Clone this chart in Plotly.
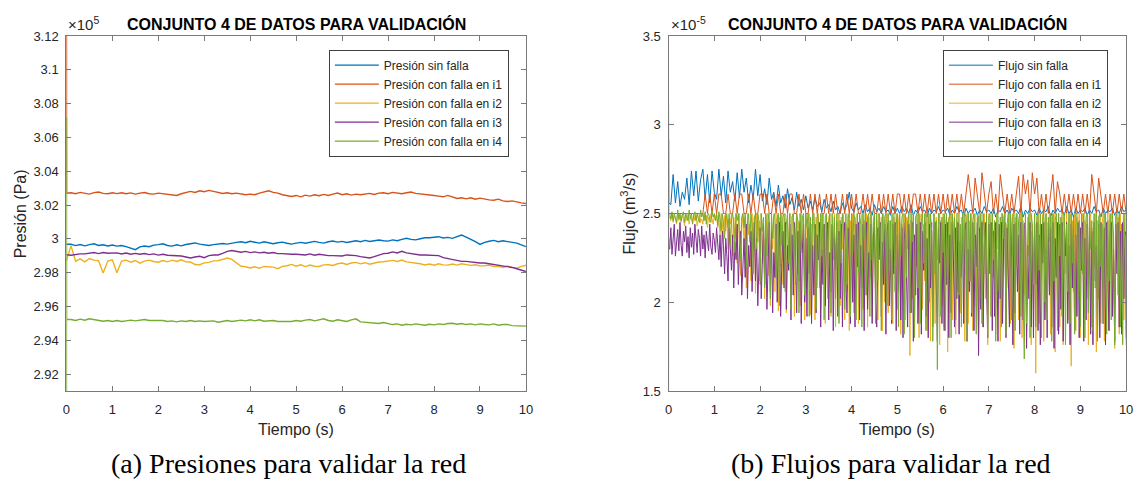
import numpy as np
import plotly.graph_objects as go

# ---------------- DATA ----------------
# Pressure (values in units of 1e5 Pa), sampled at T_PRES
T_PRES_START = [0.0, 0.002, 0.004]
T_PRES = T_PRES_START + [round(0.1 * k, 1) for k in range(1, 101)]

P_SIN_FALLA = [2.9970, 2.9966, 2.9968,
    2.9968, 2.9960, 2.9967, 2.9959, 2.9966, 2.9971, 2.9961, 2.9965, 2.9958, 2.9964,
    2.9957, 2.9961, 2.9954, 2.9947, 2.9936, 2.9953, 2.9958, 2.9954, 2.9963, 2.9966,
    2.9971, 2.9961, 2.9957, 2.9965, 2.9959, 2.9967, 2.9973, 2.9976, 2.9969, 2.9965,
    2.9961, 2.9966, 2.9969, 2.9973, 2.9969, 2.9976, 2.9979, 2.9983, 2.9977, 2.9986,
    2.9981, 2.9975, 2.9983, 2.9977, 2.9971, 2.9977, 2.9981, 2.9974, 2.9969, 2.9975,
    2.9979, 2.9974, 2.9981, 2.9985, 2.9979, 2.9975, 2.9983, 2.9987, 2.9981, 2.9985,
    2.9979, 2.9986, 2.9989, 2.9983, 2.9991, 2.9985, 2.9989, 2.9993, 2.9989, 2.9987,
    2.9994, 2.9989, 2.9997, 3.0004, 2.9997, 2.9994, 3.0001, 3.0007, 3.0007, 3.0011,
    3.0013, 3.0005, 3.0009, 3.0003, 3.0011, 3.0023, 3.0011, 2.9999, 2.9984, 2.9967,
    2.9979, 2.9986, 2.9991, 2.9983, 2.9989, 2.9984, 2.9981, 2.9975, 2.9965, 2.9954]

P_FALLA_I1 = [3.2000, 3.0500, 3.0270,
    3.0273, 3.0267, 3.0275, 3.0269, 3.0265, 3.0274, 3.0277, 3.0269, 3.0267, 3.0273,
    3.0268, 3.0273, 3.0267, 3.0272, 3.0265, 3.0271, 3.0274, 3.0267, 3.0265, 3.0271,
    3.0267, 3.0264, 3.0261, 3.0257, 3.0267, 3.0273, 3.0281, 3.0275, 3.0285, 3.0279,
    3.0287, 3.0281, 3.0276, 3.0269, 3.0273, 3.0267, 3.0271, 3.0265, 3.0261, 3.0265,
    3.0261, 3.0271, 3.0279, 3.0285, 3.0275, 3.0271, 3.0261, 3.0255, 3.0251, 3.0257,
    3.0249, 3.0259, 3.0253, 3.0261, 3.0255, 3.0263, 3.0257, 3.0265, 3.0271, 3.0261,
    3.0267, 3.0259, 3.0265, 3.0261, 3.0267, 3.0269, 3.0263, 3.0271, 3.0273, 3.0267,
    3.0275, 3.0269, 3.0267, 3.0273, 3.0277, 3.0269, 3.0267, 3.0263, 3.0261, 3.0257,
    3.0253, 3.0249, 3.0257, 3.0247, 3.0239, 3.0243, 3.0237, 3.0243, 3.0235, 3.0241,
    3.0235, 3.0231, 3.0229, 3.0235, 3.0225, 3.0221, 3.0225, 3.0217, 3.0213, 3.0209]

P_FALLA_I2 = [2.9880, 2.9870, 2.9875,
    2.9960, 2.9868, 2.9882, 2.9864, 2.9884, 2.9874, 2.9871, 2.9798, 2.9869, 2.9876,
    2.9800, 2.9869, 2.9874, 2.9862, 2.9872, 2.9856, 2.9868, 2.9874, 2.9866, 2.9862,
    2.9872, 2.9864, 2.9874, 2.9866, 2.9876, 2.9864, 2.9863, 2.9848, 2.9847, 2.9858,
    2.9861, 2.9870, 2.9871, 2.9880, 2.9887, 2.9879, 2.9861, 2.9838, 2.9835, 2.9828,
    2.9835, 2.9826, 2.9837, 2.9836, 2.9833, 2.9824, 2.9837, 2.9841, 2.9849, 2.9838,
    2.9847, 2.9836, 2.9845, 2.9838, 2.9837, 2.9846, 2.9847, 2.9843, 2.9853, 2.9857,
    2.9849, 2.9857, 2.9861, 2.9852, 2.9859, 2.9850, 2.9857, 2.9863, 2.9865, 2.9869,
    2.9873, 2.9866, 2.9875, 2.9864, 2.9861, 2.9854, 2.9853, 2.9846, 2.9851, 2.9844,
    2.9853, 2.9846, 2.9845, 2.9851, 2.9845, 2.9853, 2.9847, 2.9843, 2.9847, 2.9840,
    2.9841, 2.9845, 2.9837, 2.9837, 2.9831, 2.9839, 2.9831, 2.9827, 2.9837, 2.9844]

P_FALLA_I3 = [2.9906, 2.9904, 2.9906,
    2.9903, 2.9909, 2.9911, 2.9911, 2.9915, 2.9919, 2.9913, 2.9919, 2.9915, 2.9914,
    2.9917, 2.9911, 2.9916, 2.9909, 2.9914, 2.9909, 2.9913, 2.9907, 2.9911, 2.9904,
    2.9909, 2.9903, 2.9903, 2.9899, 2.9899, 2.9893, 2.9887, 2.9893, 2.9897, 2.9889,
    2.9901, 2.9905, 2.9905, 2.9914, 2.9926, 2.9931, 2.9927, 2.9921, 2.9926, 2.9919,
    2.9923, 2.9917, 2.9921, 2.9915, 2.9919, 2.9913, 2.9913, 2.9909, 2.9909, 2.9909,
    2.9909, 2.9905, 2.9911, 2.9903, 2.9909, 2.9904, 2.9901, 2.9901, 2.9899, 2.9899,
    2.9905, 2.9905, 2.9901, 2.9895, 2.9893, 2.9887, 2.9895, 2.9903, 2.9913, 2.9915,
    2.9923, 2.9917, 2.9927, 2.9917, 2.9913, 2.9907, 2.9905, 2.9905, 2.9903, 2.9903,
    2.9901, 2.9889, 2.9883, 2.9877, 2.9873, 2.9867, 2.9867, 2.9863, 2.9863, 2.9857,
    2.9857, 2.9853, 2.9851, 2.9843, 2.9841, 2.9835, 2.9831, 2.9823, 2.9817, 2.9807]

P_FALLA_I4 = [2.8000, 3.0720, 2.9524,
    2.9523, 2.9517, 2.9525, 2.9519, 2.9527, 2.9521, 2.9519, 2.9513, 2.9517, 2.9511,
    2.9517, 2.9511, 2.9515, 2.9519, 2.9515, 2.9521, 2.9523, 2.9517, 2.9517, 2.9513,
    2.9517, 2.9511, 2.9515, 2.9509, 2.9515, 2.9511, 2.9517, 2.9511, 2.9515, 2.9511,
    2.9511, 2.9515, 2.9507, 2.9513, 2.9517, 2.9511, 2.9515, 2.9519, 2.9515, 2.9521,
    2.9515, 2.9521, 2.9513, 2.9513, 2.9517, 2.9511, 2.9511, 2.9515, 2.9511, 2.9517,
    2.9513, 2.9519, 2.9523, 2.9515, 2.9521, 2.9527, 2.9517, 2.9513, 2.9521, 2.9515,
    2.9511, 2.9521, 2.9527, 2.9509, 2.9507, 2.9507, 2.9503, 2.9499, 2.9505, 2.9497,
    2.9493, 2.9497, 2.9489, 2.9495, 2.9491, 2.9497, 2.9493, 2.9489, 2.9495, 2.9491,
    2.9497, 2.9493, 2.9499, 2.9501, 2.9495, 2.9499, 2.9493, 2.9497, 2.9491, 2.9497,
    2.9493, 2.9491, 2.9497, 2.9489, 2.9493, 2.9493, 2.9487, 2.9487, 2.9487, 2.9484]

# Flow (values in units of 1e-5 m^3/s)
# blue / orange sampled at T_FLOW, the other three at T_FLOW_FINE
T_FLOW_START = [0.0, 0.002, 0.004]
T_FLOW = T_FLOW_START + [round(0.05 * k, 3) for k in range(1, 201)]
T_FLOW_FINE = T_FLOW_START + [round(0.025 * k, 3) for k in range(1, 401)]

F_SIN_FALLA = [3.13, 2.60, 2.56,
    2.55, 2.72, 2.56, 2.68, 2.54, 2.62, 2.58, 2.70, 2.55, 2.74, 2.60, 2.74, 2.57, 2.69, 2.75, 2.58, 2.72, 2.56, 2.74, 2.62,
    2.58, 2.75, 2.60, 2.71, 2.56, 2.74, 2.62, 2.68, 2.57, 2.73, 2.59, 2.75, 2.62, 2.70, 2.56, 2.66, 2.58, 2.75, 2.60, 2.72,
    2.57, 2.64, 2.55, 2.70, 2.58, 2.62, 2.54, 2.66, 2.56, 2.60, 2.53, 2.64, 2.55, 2.59, 2.52, 2.62, 2.54, 2.58, 2.52, 2.60,
    2.53, 2.57, 2.52, 2.59, 2.54, 2.56, 2.51, 2.58, 2.53, 2.55, 2.51, 2.57, 2.52, 2.54, 2.50, 2.56, 2.52, 2.55, 2.62, 2.53,
    2.51, 2.56, 2.52, 2.54, 2.50, 2.55, 2.51, 2.53, 2.49, 2.55, 2.51, 2.53, 2.50, 2.54, 2.51, 2.52, 2.49, 2.54, 2.50, 2.53,
    2.50, 2.54, 2.51, 2.53, 2.50, 2.55, 2.49, 2.52, 2.50, 2.54, 2.51, 2.52, 2.48, 2.53, 2.50, 2.52, 2.51, 2.54, 2.50, 2.52,
    2.51, 2.53, 2.49, 2.52, 2.50, 2.54, 2.51, 2.52, 2.48, 2.53, 2.50, 2.52, 2.51, 2.53, 2.49, 2.52, 2.50, 2.54, 2.51, 2.52,
    2.50, 2.53, 2.48, 2.52, 2.51, 2.54, 2.50, 2.52, 2.49, 2.53, 2.51, 2.52, 2.50, 2.54, 2.48, 2.52, 2.50, 2.53, 2.51, 2.52,
    2.49, 2.53, 2.50, 2.52, 2.51, 2.54, 2.48, 2.52, 2.50, 2.53, 2.51, 2.52, 2.49, 2.54, 2.50, 2.52, 2.48, 2.53, 2.50, 2.52,
    2.51, 2.53, 2.49, 2.52, 2.50, 2.54, 2.51, 2.52, 2.48, 2.53, 2.50, 2.52, 2.51, 2.53, 2.49, 2.52, 2.50, 2.54, 2.51, 2.52]

F_FALLA_I1 = [2.50, 2.50, 2.50,
    2.50, 2.50, 2.50, 2.50, 2.50, 2.50, 2.50, 2.50, 2.50, 2.50, 2.50, 2.50, 2.50, 2.50, 2.50, 2.61, 2.50, 2.61, 2.50, 2.61,
    2.50, 2.61, 2.61, 2.50, 2.50, 2.61, 2.50, 2.50, 2.61, 2.50, 2.61, 2.61, 2.50, 2.50, 2.61, 2.50, 2.61, 2.50, 2.50, 2.61,
    2.61, 2.50, 2.61, 2.50, 2.50, 2.61, 2.50, 2.61, 2.50, 2.50, 2.61, 2.50, 2.61, 2.61, 2.50, 2.50, 2.61, 2.50, 2.61, 2.50,
    2.50, 2.61, 2.50, 2.61, 2.50, 2.61, 2.50, 2.50, 2.61, 2.50, 2.61, 2.50, 2.61, 2.50, 2.50, 2.61, 2.50, 2.61, 2.50, 2.61,
    2.50, 2.61, 2.50, 2.50, 2.61, 2.50, 2.61, 2.50, 2.61, 2.50, 2.50, 2.61, 2.50, 2.61, 2.50, 2.61, 2.50, 2.61, 2.50, 2.61,
    2.61, 2.50, 2.61, 2.50, 2.61, 2.50, 2.61, 2.61, 2.50, 2.61, 2.50, 2.61, 2.50, 2.61, 2.50, 2.61, 2.50, 2.61, 2.50, 2.61,
    2.50, 2.61, 2.50, 2.61, 2.50, 2.61, 2.50, 2.61, 2.50, 2.61, 2.72, 2.61, 2.50, 2.70, 2.61, 2.50, 2.73, 2.61, 2.50, 2.61,
    2.68, 2.50, 2.61, 2.50, 2.72, 2.61, 2.50, 2.61, 2.50, 2.61, 2.50, 2.61, 2.71, 2.50, 2.72, 2.61, 2.69, 2.50, 2.73, 2.61,
    2.70, 2.50, 2.61, 2.50, 2.61, 2.50, 2.61, 2.72, 2.50, 2.68, 2.61, 2.50, 2.61, 2.50, 2.61, 2.50, 2.61, 2.50, 2.61, 2.50,
    2.61, 2.50, 2.61, 2.50, 2.72, 2.61, 2.50, 2.70, 2.61, 2.50, 2.61, 2.50, 2.61, 2.50, 2.61, 2.50, 2.61, 2.50, 2.61, 2.50]

F_FALLA_I2 = [2.48, 2.48, 2.48,
    2.48, 2.46, 2.50, 2.45, 2.49, 2.47, 2.44, 2.50, 2.46, 2.48, 2.45, 2.50, 2.47, 2.43, 2.49, 2.46, 2.50, 2.44, 2.48, 2.47,
    2.45, 2.50, 2.46, 2.49, 2.43, 2.48, 2.50, 2.45, 2.47, 2.44, 2.50, 2.46, 2.49, 2.42, 2.48, 2.45, 2.50, 2.47, 2.44, 2.49,
    2.46, 2.50, 2.42, 2.48, 2.38, 2.50, 2.45, 2.34, 2.49, 2.40, 2.50, 2.30, 2.47, 2.44, 2.50, 2.26, 2.48, 2.36, 2.50, 2.22,
    2.46, 2.50, 2.15, 2.42, 2.50, 2.30, 2.48, 2.08, 2.50, 2.38, 2.44, 2.12, 2.50, 2.25, 2.48, 2.05, 2.50, 2.34, 2.46, 2.10,
    2.50, 2.22, 2.48, 2.02, 2.50, 2.40, 2.15, 2.50, 1.98, 2.46, 2.30, 2.50, 2.06, 2.44, 2.50, 1.95, 2.48, 2.20, 2.50, 2.10,
    2.42, 2.50, 1.94, 2.46, 2.28, 2.50, 2.04, 2.48, 2.50, 1.92, 2.40, 2.50, 2.16, 2.46, 1.98, 2.50, 2.32, 2.48, 1.90, 2.50,
    2.12, 2.46, 2.50, 1.93, 2.44, 2.26, 2.50, 1.90, 2.48, 2.08, 2.50, 2.36, 1.96, 2.50, 2.18, 2.44, 1.88, 2.50, 2.02, 2.48,
    2.50, 1.92, 2.40, 2.24, 2.50, 1.86, 2.46, 2.10, 2.50, 1.98, 2.48, 2.30, 2.50, 1.90, 2.44, 2.06, 2.50, 1.84, 2.46, 2.20,
    2.50, 1.94, 2.48, 2.12, 2.50, 1.88, 2.42, 2.28, 2.50, 1.96, 2.46, 2.04, 2.50, 1.86, 2.48, 2.18, 2.50, 1.92, 2.40, 2.50,
    2.08, 2.46, 1.90, 2.50, 2.26, 2.48, 1.84, 2.50, 2.00, 2.44, 2.50, 1.94, 2.46, 2.14, 2.50, 1.88, 2.48, 2.22, 2.50, 1.96,
    2.46, 2.50, 1.82, 2.44, 2.10, 2.50, 1.90, 2.48, 2.30, 2.50, 1.70, 2.46, 2.02, 2.50, 1.86, 2.42, 2.20, 2.50, 1.80, 2.48,
    2.50, 1.96, 2.44, 2.12, 2.50, 1.84, 2.46, 2.50, 1.78, 2.40, 2.04, 2.50, 1.88, 2.48, 2.24, 2.50, 1.76, 2.46, 1.98, 2.50,
    1.86, 2.44, 2.50, 1.72, 2.48, 2.16, 2.50, 1.90, 2.42, 2.50, 1.82, 2.46, 2.06, 2.50, 1.94, 2.48, 2.28, 2.50, 1.78, 2.44,
    2.50, 1.88, 2.46, 2.12, 2.50, 1.84, 2.40, 2.50, 1.98, 2.48, 1.80, 2.50, 2.22, 2.46, 1.86, 2.50, 2.02, 2.44, 1.76, 2.50,
    2.48, 1.92, 2.50, 2.14, 2.46, 1.82, 2.50, 2.30, 2.42, 1.78, 2.50, 1.96, 2.48, 2.50, 1.84, 2.44, 2.08, 2.50, 1.88, 2.46,
    2.50, 1.74, 2.48, 2.20, 2.50, 1.90, 2.42, 2.50, 1.80, 2.46, 2.04, 2.50, 1.86, 2.48, 2.26, 2.50, 1.76, 2.44, 1.96, 2.50,
    1.60, 2.48, 2.50, 1.88, 2.44, 2.12, 2.50, 1.78, 2.46, 2.50, 1.94, 2.40, 2.50, 1.82, 2.48, 2.22, 2.50, 1.72, 2.46, 2.02,
    2.50, 1.86, 2.44, 2.50, 1.76, 2.48, 2.16, 2.50, 1.90, 2.42, 2.50, 1.64, 2.46, 2.06, 2.50, 1.84, 2.48, 2.28, 2.50, 1.80,
    2.44, 2.50, 1.92, 2.46, 2.10, 2.50, 1.76, 2.48, 2.50, 1.86, 2.42, 2.20, 2.50, 1.72, 2.46, 2.02, 2.50, 1.88, 2.44, 2.50,
    1.78, 2.48, 2.14, 2.50, 1.84, 2.46, 2.50, 1.96, 2.40, 1.74, 2.50, 2.24, 2.48, 1.82, 2.50, 2.06, 2.44, 1.90, 2.50, 1.76]

F_FALLA_I3 = [2.30, 2.36, 2.30,
    2.30, 2.42, 2.27, 2.38, 2.44, 2.26, 2.35, 2.41, 2.29, 2.45, 2.32, 2.26, 2.40, 2.34, 2.43, 2.28, 2.37, 2.25, 2.42, 2.31,
    2.39, 2.27, 2.44, 2.33, 2.28, 2.41, 2.36, 2.26, 2.43, 2.30, 2.38, 2.25, 2.40, 2.34, 2.29, 2.44, 2.31, 2.27, 2.39, 2.35,
    2.28, 2.42, 2.30, 2.24, 2.38, 2.20, 2.40, 2.32, 2.16, 2.36, 2.26, 2.12, 2.42, 2.30, 2.18, 2.38, 2.08, 2.34, 2.24, 2.44,
    2.10, 2.30, 2.40, 2.04, 2.26, 2.36, 2.14, 2.44, 2.02, 2.32, 2.20, 2.40, 2.06, 2.28, 2.45, 2.12, 2.36, 1.98, 2.30, 2.42,
    2.02, 2.24, 2.44, 2.10, 2.36, 1.96, 2.30, 2.45, 2.06, 2.40, 1.94, 2.28, 2.14, 2.44, 2.00, 2.34, 2.45, 1.92, 2.22, 2.40,
    2.08, 2.45, 1.96, 2.32, 2.18, 2.44, 1.90, 2.38, 2.04, 2.45, 2.26, 1.94, 2.40, 2.12, 2.45, 1.88, 2.30, 2.44, 2.00, 2.36,
    1.92, 2.42, 2.16, 2.45, 1.88, 2.32, 2.04, 2.44, 1.94, 2.38, 2.24, 2.45, 1.86, 2.30, 2.10, 2.44, 1.98, 2.40, 2.45, 1.90,
    2.28, 2.06, 2.44, 1.84, 2.36, 2.18, 2.45, 1.92, 2.40, 2.02, 2.44, 1.86, 2.34, 2.45, 2.12, 1.94, 2.42, 2.26, 1.88, 2.45,
    2.00, 2.38, 1.86, 2.44, 2.20, 2.45, 1.90, 2.32, 2.08, 2.44, 1.84, 2.40, 2.45, 1.96, 2.28, 2.14, 2.44, 1.88, 2.36, 2.45,
    2.02, 1.86, 2.42, 2.24, 2.45, 1.92, 2.34, 2.10, 2.44, 1.82, 2.40, 2.45, 1.98, 2.30, 1.88, 2.44, 2.16, 2.45, 1.84, 2.38,
    2.06, 2.45, 1.90, 2.42, 1.80, 2.34, 2.45, 2.12, 1.86, 2.44, 2.26, 1.94, 2.45, 1.78, 2.38, 2.04, 2.44, 1.88, 2.30, 2.45,
    1.82, 2.40, 2.18, 2.45, 1.92, 2.36, 1.80, 2.44, 2.08, 2.45, 1.86, 2.32, 2.45, 1.96, 1.78, 2.42, 2.22, 2.45, 1.88, 2.36,
    1.84, 2.44, 2.10, 2.45, 1.80, 2.38, 1.94, 2.45, 2.26, 1.86, 2.42, 2.02, 2.45, 1.82, 2.34, 2.14, 2.44, 1.88, 2.40, 2.45,
    1.78, 2.30, 2.06, 2.44, 1.92, 2.45, 1.84, 2.38, 2.20, 2.45, 1.70, 2.42, 1.96, 2.45, 1.86, 2.32, 2.45, 2.08, 1.80, 2.44,
    2.16, 2.45, 1.84, 2.40, 1.92, 2.45, 2.28, 1.78, 2.44, 2.02, 2.45, 1.88, 2.36, 2.45, 1.80, 2.42, 2.12, 1.86, 2.45, 2.24,
    1.76, 2.44, 1.94, 2.45, 2.06, 2.38, 1.82, 2.45, 2.18, 1.90, 2.44, 2.45, 1.74, 2.32, 2.02, 2.45, 1.86, 2.40, 1.80, 2.44,
    2.10, 2.45, 1.84, 2.38, 1.76, 2.44, 2.22, 2.45, 1.90, 2.30, 1.80, 2.45, 2.04, 2.42, 1.86, 2.45, 1.74, 2.36, 2.14, 2.45,
    1.82, 2.44, 1.96, 2.45, 1.78, 2.40, 2.26, 2.45, 1.88, 2.32, 1.76, 2.44, 2.08, 2.45, 1.84, 2.38, 1.92, 2.45, 1.80, 2.42,
    2.18, 2.45, 1.78, 2.36, 1.90, 2.44, 2.02, 2.45, 1.82, 2.40, 1.76, 2.45, 2.12, 2.32, 1.86, 2.44, 1.80, 2.45, 2.24, 1.88,
    2.42, 1.76, 2.45, 2.06, 1.84, 2.38, 2.45, 1.92, 2.30, 1.78, 2.44, 2.16, 2.45, 1.86, 2.40, 1.82, 2.45, 2.02, 2.38, 2.40]

F_FALLA_I4 = [1.00, 2.915, 2.50,
    2.50, 2.47, 2.51, 2.46, 2.50, 2.48, 2.45, 2.52, 2.47, 2.50, 2.46, 2.49, 2.51, 2.45, 2.50, 2.48, 2.46, 2.52, 2.47, 2.50,
    2.44, 2.49, 2.51, 2.46, 2.50, 2.47, 2.45, 2.52, 2.48, 2.50, 2.46, 2.51, 2.44, 2.49, 2.50, 2.47, 2.45, 2.51, 2.48, 2.50,
    2.46, 2.50, 2.43, 2.51, 2.47, 2.40, 2.50, 2.45, 2.36, 2.50, 2.48, 2.42, 2.50, 2.32, 2.47, 2.50, 2.44, 2.28, 2.50, 2.46,
    2.50, 2.38, 2.24, 2.48, 2.50, 2.42, 2.50, 2.20, 2.46, 2.50, 2.34, 2.50, 2.44, 2.16, 2.48, 2.50, 2.30, 2.50, 2.46, 2.12,
    2.50, 2.40, 2.48, 2.08, 2.50, 2.26, 2.50, 2.44, 2.02, 2.50, 2.36, 2.48, 2.50, 2.14, 2.46, 2.50, 1.98, 2.50, 2.32, 2.48,
    2.50, 2.06, 2.44, 2.50, 2.22, 2.50, 1.96, 2.48, 2.50, 2.38, 2.10, 2.50, 2.46, 1.94, 2.50, 2.28, 2.48, 2.50, 2.04, 2.50,
    2.42, 2.50, 1.92, 2.48, 2.18, 2.50, 2.50, 2.34, 1.96, 2.50, 2.46, 2.08, 2.50, 2.26, 2.50, 1.90, 2.48, 2.50, 2.14, 2.44,
    2.50, 1.94, 2.50, 2.30, 2.48, 2.02, 2.50, 2.50, 1.88, 2.46, 2.22, 2.50, 2.40, 1.96, 2.50, 2.10, 2.48, 2.50, 1.92, 2.50,
    2.28, 2.50, 2.46, 1.90, 2.50, 2.16, 2.50, 2.44, 1.86, 2.50, 2.36, 2.50, 2.04, 2.48, 2.50, 1.92, 2.50, 2.24, 2.46, 2.50,
    1.88, 2.50, 2.12, 2.50, 2.42, 1.84, 2.50, 2.30, 2.48, 2.50, 1.98, 2.50, 2.18, 2.46, 1.90, 2.50, 2.50, 2.06, 2.44, 2.50,
    1.86, 2.50, 2.26, 2.48, 2.50, 1.82, 2.50, 2.14, 2.46, 2.50, 1.94, 2.50, 2.34, 2.50, 1.80, 2.48, 2.50, 2.08, 2.50, 1.88,
    2.44, 2.50, 2.22, 2.50, 1.84, 2.48, 2.50, 2.00, 2.50, 2.40, 1.78, 2.50, 2.16, 2.46, 1.62, 2.50, 2.50, 1.92, 2.48, 2.28,
    2.50, 1.84, 2.50, 2.10, 2.46, 2.50, 1.80, 2.50, 2.32, 2.48, 1.90, 2.50, 2.50, 2.04, 2.44, 1.86, 2.50, 2.20, 2.50, 2.48,
    1.78, 2.50, 2.12, 2.50, 1.94, 2.46, 2.50, 2.28, 1.82, 2.50, 2.48, 2.02, 2.50, 1.88, 2.50, 2.40, 2.16, 2.50, 1.80, 2.48,
    2.50, 1.92, 2.50, 2.24, 2.46, 1.78, 2.50, 2.50, 2.06, 2.48, 1.86, 2.50, 2.36, 2.50, 1.82, 2.44, 2.50, 2.14, 2.50, 1.90,
    2.48, 2.50, 1.84, 2.50, 2.20, 2.46, 2.50, 1.92, 2.50, 2.02, 1.68, 2.50, 1.88, 2.30, 2.50, 1.80, 2.50, 2.44, 2.10, 2.50,
    1.86, 2.48, 2.50, 2.18, 2.50, 1.80, 2.46, 2.50, 2.00, 2.50, 1.90, 2.48, 2.34, 2.50, 1.78, 2.50, 2.12, 2.46, 2.50, 1.84,
    2.50, 2.26, 2.48, 1.92, 2.50, 2.50, 1.76, 2.44, 2.06, 2.50, 1.88, 2.50, 2.22, 2.48, 1.82, 2.50, 2.50, 2.02, 2.46, 1.86,
    2.50, 2.16, 2.50, 1.80, 2.48, 2.50, 1.94, 2.50, 2.30, 2.46, 1.84, 2.50, 2.08, 2.50, 1.78, 2.48, 2.50, 2.20, 2.44, 1.88,
    2.50, 2.50, 1.82, 2.46, 2.12, 2.50, 1.90, 2.50, 2.38, 1.76, 2.48, 2.50, 2.04, 2.50, 1.86, 2.44, 1.76, 2.50, 2.30, 1.80]

PRES_NAMES = ["Presión sin falla", "Presión con falla en i1", "Presión con falla en i2",
              "Presión con falla en i3", "Presión con falla en i4"]
FLOW_NAMES = ["Flujo sin falla", "Flujo con falla en i1", "Flujo con falla en i2",
              "Flujo con falla en i3", "Flujo con falla en i4"]
TITLE = "CONJUNTO 4 DE DATOS PARA VALIDACIÓN"
CAPTIONS = ["(a) Presiones para validar la red", "(b) Flujos para validar la red"]
X_TICKS = list(range(0, 11))
P_TICKS = [2.92, 2.94, 2.96, 2.98, 3.00, 3.02, 3.04, 3.06, 3.08, 3.10, 3.12]
F_TICKS = [1.5, 2.0, 2.5, 3.0, 3.5]

# ---------------- STYLE ----------------
COLORS = ["#0072BD", "#D95319", "#EDB120", "#7E2F8E", "#77AC30"]
W, H = 1145, 494
AX_COLOR = "#7a7a7a"
TXT = "#262626"
SANS = "Liberation Sans, Arial, sans-serif"

def px_x(p):
    return p / W

def px_y(p):
    return 1 - p / H

fig = go.Figure()

pres_series = [P_SIN_FALLA, P_FALLA_I1, P_FALLA_I2, P_FALLA_I3, P_FALLA_I4]
flow_series = [F_SIN_FALLA, F_FALLA_I1, F_FALLA_I2, F_FALLA_I3, F_FALLA_I4]
flow_times = [T_FLOW, T_FLOW, T_FLOW_FINE, T_FLOW_FINE, T_FLOW_FINE]

for name, vals, col in zip(PRES_NAMES, pres_series, COLORS):
    fig.add_trace(go.Scatter(x=T_PRES, y=vals, mode="lines", name=name,
                             line=dict(color=col, width=1.4),
                             xaxis="x", yaxis="y", legend="legend"))
for name, tt, vals, col in zip(FLOW_NAMES, flow_times, flow_series, COLORS):
    fig.add_trace(go.Scatter(x=tt, y=vals, mode="lines", name=name,
                             line=dict(color=col, width=1),
                             xaxis="x2", yaxis="y2", legend="legend2"))

axis_common = dict(showline=True, linecolor=AX_COLOR, linewidth=1.2, mirror="ticks",
                   ticks="inside", ticklen=5, tickwidth=1, tickcolor=AX_COLOR,
                   showgrid=False, zeroline=False,
                   tickfont=dict(family=SANS, size=13, color=TXT))

YDOM = [px_y(396), px_y(30)]
legend_common = dict(xanchor="left", yanchor="top", bgcolor="white",
                     bordercolor="#404040", borderwidth=1,
                     font=dict(family=SANS, size=12, color=TXT), itemwidth=44,
                     tracegroupgap=0)
fig.update_layout(
    width=W, height=H, margin=dict(l=0, r=0, t=0, b=0),
    paper_bgcolor="white", plot_bgcolor="white", showlegend=True,
    xaxis=dict(domain=[px_x(63), px_x(527)], range=[0, 10], tickvals=X_TICKS,
               anchor="y", ticklabelstandoff=6, **axis_common),
    yaxis=dict(domain=YDOM, range=[2.91, 3.12], tickvals=P_TICKS, anchor="x",
               ticklabelstandoff=4, **axis_common),
    xaxis2=dict(domain=[px_x(671), px_x(1133)], range=[0, 10], tickvals=X_TICKS,
                anchor="y2", ticklabelstandoff=6, **axis_common),
    yaxis2=dict(domain=YDOM, range=[1.5, 3.5], tickvals=F_TICKS, anchor="x2",
                ticklabelstandoff=4, **axis_common),
    legend=dict(x=px_x(328), y=px_y(44), **legend_common),
    legend2=dict(x=px_x(948), y=px_y(44), **legend_common),
)

ann = []
for cx in [295, 902]:
    ann.append(dict(text="<b>" + TITLE + "</b>", x=px_x(cx), y=px_y(18),
                    xref="paper", yref="paper", xanchor="center", yanchor="middle",
                    showarrow=False, font=dict(family=SANS, size=16, color="black")))
    ann.append(dict(text="Tiempo (s)", x=px_x(cx), y=px_y(436),
                    xref="paper", yref="paper", xanchor="center", yanchor="middle",
                    showarrow=False, font=dict(family=SANS, size=16, color=TXT)))
ann.append(dict(text="×10<sup>5</sup>", x=px_x(63), y=px_y(29), xref="paper", yref="paper",
                xanchor="left", yanchor="bottom", showarrow=False,
                font=dict(family=SANS, size=15, color=TXT)))
ann.append(dict(text="×10<sup>-5</sup>", x=px_x(671), y=px_y(29), xref="paper", yref="paper",
                xanchor="left", yanchor="bottom", showarrow=False,
                font=dict(family=SANS, size=15, color=TXT)))
ann.append(dict(text="Presión (Pa)", x=px_x(17), y=px_y(213), xref="paper", yref="paper",
                xanchor="center", yanchor="middle", textangle=-90, showarrow=False,
                font=dict(family=SANS, size=16, color=TXT)))
ann.append(dict(text="Flujo (m<sup>3</sup>/s)", x=px_x(630), y=px_y(213), xref="paper",
                yref="paper", xanchor="center", yanchor="middle", textangle=-90,
                showarrow=False, font=dict(family=SANS, size=16, color=TXT)))
for cx, cap in zip([287, 896], CAPTIONS):
    ann.append(dict(text=cap, x=px_x(cx), y=px_y(471), xref="paper", yref="paper",
                    xanchor="center", yanchor="middle", showarrow=False,
                    font=dict(family="Liberation Serif, serif", size=28, color="black")))
fig.update_layout(annotations=ann)

fig.write_html("out.html")
